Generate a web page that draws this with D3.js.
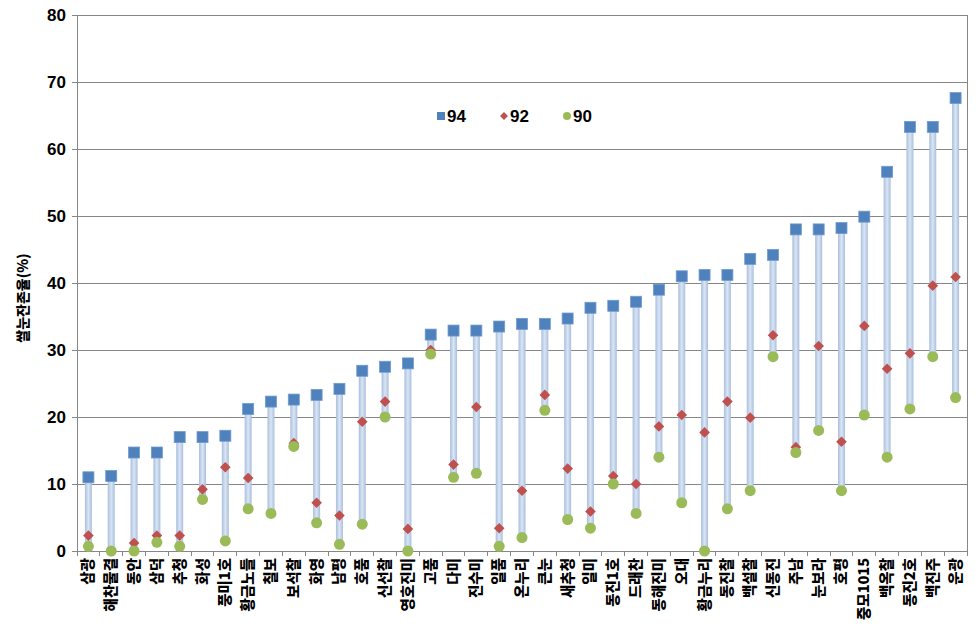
<!DOCTYPE html>
<html><head><meta charset="utf-8">
<script src="https://cdn.jsdelivr.net/npm/d3@7"></script>
<style>body{margin:0;background:#fff;} svg{display:block;}</style>
</head><body>
<svg id="c" width="979" height="640"></svg>
<script>
const categories = ["삼광","해찬물결","동안","삼덕","추청","화성","풍미1호","황금노들","칠보","보석찰","화영","남평","호품","신선찰","영호진미","고품","다미","진수미","일품","온누리","큰눈","새추청","일미","동진1호","드래찬","동해진미","오대","황금누리","동진찰","백설찰","신동진","주남","눈보라","호평","중모1015","백옥찰","동진2호","백진주","운광"];
const s94 = [11.0,11.2,14.7,14.7,17.0,17.0,17.2,21.2,22.3,22.6,23.3,24.2,26.9,27.5,28.0,32.3,32.9,32.9,33.5,33.9,33.9,34.7,36.3,36.6,37.2,39.0,41.0,41.2,41.2,43.6,44.2,48.0,48.0,48.2,49.9,56.6,63.3,63.3,67.6];
const s92 = [2.3,0,1.2,2.3,2.3,9.2,12.5,10.9,null,16.1,7.2,5.3,19.3,22.3,3.3,30.0,12.9,21.5,3.4,9.0,23.3,12.3,5.9,11.2,10.0,18.6,20.3,17.7,22.3,19.9,32.2,15.5,30.6,16.3,33.6,27.2,29.5,39.6,40.9];
const s90 = [0.7,0,0,1.3,0.7,7.7,1.5,6.3,5.6,15.6,4.2,1.0,4.0,20.0,0,29.4,11.0,11.6,0.7,2.0,21.0,4.7,3.4,10.0,5.6,14.0,7.2,0,6.3,9.0,29.0,14.7,18.0,9.0,20.3,14.0,21.2,29.0,22.9];
const yTicks = [0,10,20,30,40,50,60,70,80];
const seriesNames = ["94","92","90"];
const colors = {"94":"#4f81bd","92":"#c0504d","90":"#9bbb59"};

const svg = d3.select("#c");
const L = 77, R = 967, T = 15, B = 551;
const x = d3.scaleBand().domain(categories).range([L, R]).padding(0);
const y = d3.scaleLinear().domain([0, 80]).range([B, T]);

const defs = svg.append("defs");
const g = defs.append("linearGradient").attr("id","bar").attr("x1","0").attr("x2","1").attr("y1","0").attr("y2","0");
g.append("stop").attr("offset","0").attr("stop-color","#a7bfdf");
g.append("stop").attr("offset","0.5").attr("stop-color","#dbe5f3");
g.append("stop").attr("offset","1").attr("stop-color","#a7bfdf");

// gridlines
svg.append("g").selectAll("line").data(yTicks).join("line")
  .attr("x1", L).attr("x2", R).attr("y1", d => y(d)).attr("y2", d => y(d))
  .attr("stroke", "#868686").attr("stroke-width", 1).attr("shape-rendering","crispEdges");
// right border
svg.append("line").attr("x1",R).attr("x2",R).attr("y1",T).attr("y2",B).attr("stroke","#868686").attr("shape-rendering","crispEdges");

// y axis
const yAxis = svg.append("g").attr("transform", `translate(${L},0)`)
  .call(d3.axisLeft(y).tickValues(yTicks).tickSize(5).tickPadding(6));
yAxis.select(".domain").attr("stroke","#868686");
yAxis.selectAll(".tick line").attr("stroke","#868686");
yAxis.selectAll("text").attr("font-family","Arial, 'Liberation Sans', sans-serif").attr("font-weight","bold").attr("font-size",17).attr("fill","#000");

// x axis
const xAxis = svg.append("g").attr("transform", `translate(0,${B})`)
  .call(d3.axisBottom(x).tickSize(0).tickFormat(""));
xAxis.select(".domain").attr("stroke","#868686");
svg.append("g").selectAll("line").data(d3.range(categories.length + 1)).join("line")
  .attr("x1", i => L + i * x.bandwidth()).attr("x2", i => L + i * x.bandwidth())
  .attr("y1", B).attr("y2", B + 5).attr("stroke","#868686").attr("shape-rendering","crispEdges");

svg.append("g").selectAll("text").data(categories).join("text")
  .attr("transform", d => `translate(${x(d) + x.bandwidth()/2 + 5},${B + 7}) rotate(-90)`)
  .attr("text-anchor","end")
  .attr("font-family","'Noto Sans CJK KR', sans-serif").attr("font-weight","900").attr("font-size",14.5).attr("fill","#000")
  .text(d => d);

// y label
svg.append("text").attr("transform","translate(28,298) rotate(-90)")
  .attr("text-anchor","middle")
  .attr("font-family","'Noto Sans CJK KR', sans-serif").attr("font-weight","900").attr("font-size",14).attr("fill","#000")
  .text("쌀눈잔존율(%)");

// high-low bars
const rows = categories.map((c, i) => ({c, v94: s94[i], v92: s92[i], v90: s90[i]}));
svg.append("g").selectAll("rect").data(rows).join("rect")
  .attr("x", d => x(d.c) + x.bandwidth()/2 - 3.5).attr("width", 7)
  .attr("y", d => y(d3.max([d.v94, d.v92, d.v90])))
  .attr("height", d => y(d3.min([d.v94, d.v92, d.v90].filter(v => v != null))) - y(d3.max([d.v94, d.v92, d.v90])))
  .attr("fill","url(#bar)");

// markers
const cx = d => x(d.c) + x.bandwidth()/2;
svg.append("g").selectAll("rect").data(rows).join("rect")
  .attr("x", d => cx(d) - 5.5).attr("y", d => y(d.v94) - 5.5).attr("width", 11).attr("height", 11)
  .attr("fill", colors["94"]).attr("stroke","#6f9bd0").attr("stroke-width",0.8);
svg.append("g").selectAll("path").data(rows.filter(d => d.v92 != null)).join("path")
  .attr("transform", d => `translate(${cx(d)},${y(d.v92)})`)
  .attr("d", d3.symbol(d3.symbolDiamond2, 72)())
  .attr("fill", colors["92"]);
svg.append("g").selectAll("circle").data(rows).join("circle")
  .attr("cx", cx).attr("cy", d => y(d.v90)).attr("r", 5.5)
  .attr("fill", colors["90"]);

// legend
const leg = svg.append("g");
const lx = [441, 504, 567];
seriesNames.forEach((s, i) => {
  const gx = lx[i], gy = 116;
  if (s === "94") leg.append("rect").attr("x", gx - 4).attr("y", gy - 4).attr("width", 8).attr("height", 8).attr("fill", colors[s]);
  else if (s === "92") leg.append("path").attr("transform", `translate(${gx},${gy})`).attr("d", d3.symbol(d3.symbolDiamond2, 40)()).attr("fill", colors[s]);
  else leg.append("circle").attr("cx", gx).attr("cy", gy).attr("r", 4).attr("fill", colors[s]);
  leg.append("text").attr("x", gx + 6).attr("y", gy + 6).attr("font-family","Arial, 'Liberation Sans', sans-serif")
    .attr("font-weight","bold").attr("font-size",17).attr("fill","#000").text(s);
});
</script>
</body></html>
